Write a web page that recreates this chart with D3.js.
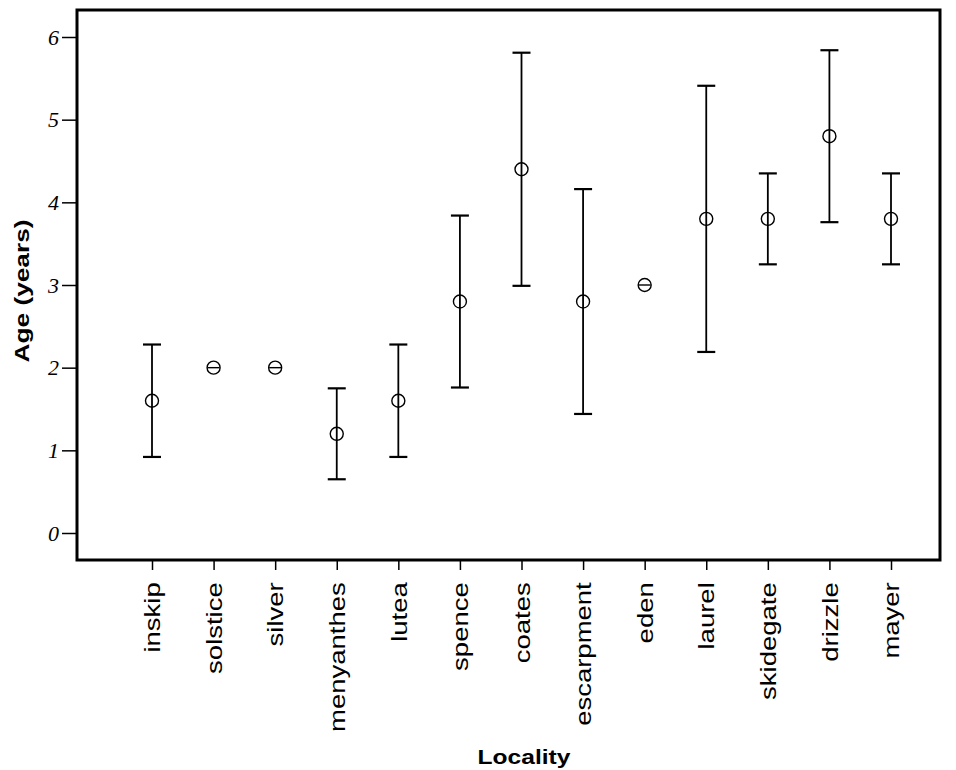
<!DOCTYPE html>
<html>
<head>
<meta charset="utf-8">
<script src="https://cdn.jsdelivr.net/npm/d3@7"></script>
<style>
  body { margin: 0; background: #fff; }
</style>
</head>
<body>
<svg id="chart"></svg>
<script>
const localities = ["inskip", "solstice", "silver", "menyanthes", "lutea", "spence", "coates",
  "escarpment", "eden", "laurel", "skidegate", "drizzle", "mayer"];
const meanAge = [1.6, 2.0, 2.0, 1.2, 1.6, 2.8, 4.4, 2.8, 3.0, 3.8, 3.8, 4.8, 3.8];
const lowerCI = [0.92, 2.0, 2.0, 0.65, 0.92, 1.76, 2.99, 1.44, 3.0, 2.19, 3.25, 3.76, 3.25];
const upperCI = [2.28, 2.0, 2.0, 1.75, 2.28, 3.84, 5.81, 4.16, 3.0, 5.41, 4.35, 5.84, 4.35];
const yTicks = [0, 1, 2, 3, 4, 5, 6];

const svgWidth = 956;
const svgHeight = 770;
const frame = { left: 77, right: 940, top: 10, bottom: 560 };
const sans = "'Liberation Sans', Arial, sans-serif";

const svg = d3.select("#chart")
  .attr("width", svgWidth)
  .attr("height", svgHeight);

const dataset = localities.map((name, i) => ({
  name: name, mean: meanAge[i], lo: lowerCI[i], hi: upperCI[i]
}));

const xScale = d3.scalePoint()
  .domain(localities)
  .range([152, 891]);

const yScale = d3.scaleLinear()
  .domain([0, 6])
  .range([533, 37]);

// frame
svg.append("rect")
  .attr("x", frame.left)
  .attr("y", frame.top)
  .attr("width", frame.right - frame.left)
  .attr("height", frame.bottom - frame.top)
  .attr("fill", "none")
  .attr("stroke", "#000")
  .attr("stroke-width", 3);

// y axis
const yAxis = d3.axisLeft(yScale)
  .tickValues(yTicks)
  .tickSize(14)
  .tickPadding(3)
  .tickFormat(d3.format("d"));

const gy = svg.append("g")
  .attr("transform", `translate(${frame.left - 1}, 0)`)
  .call(yAxis);
gy.select(".domain").remove();
gy.selectAll("line").attr("stroke", "#000").attr("stroke-width", 1.5);
gy.selectAll("text")
  .attr("font-family", "'Liberation Serif', serif")
  .attr("font-style", "italic")
  .attr("font-size", 22)
  .attr("fill", "#000");

// x axis, labels stretched along their length like the original export
const xAxis = d3.axisBottom(xScale)
  .tickSize(9)
  .tickPadding(0);

const gx = svg.append("g")
  .attr("transform", `translate(0, ${frame.bottom + 1})`)
  .call(xAxis);
gx.select(".domain").remove();
gx.selectAll("line").attr("stroke", "#000").attr("stroke-width", 1.5);
gx.selectAll("text")
  .attr("font-family", sans)
  .attr("font-size", 22)
  .attr("fill", "#000")
  .attr("transform", "rotate(-90) scale(1.25, 1)")
  .attr("text-anchor", "end")
  .attr("dy", "0.35em")
  .attr("x", -17)
  .attr("y", 0);

// error bars
const capHalf = 9;
const bars = svg.append("g")
  .selectAll("g")
  .data(dataset)
  .enter()
  .append("g")
  .attr("stroke", "#000")
  .attr("stroke-width", 1.8)
  .attr("fill", "none");

bars.append("line")
  .attr("x1", d => xScale(d.name))
  .attr("x2", d => xScale(d.name))
  .attr("y1", d => yScale(d.lo))
  .attr("y2", d => yScale(d.hi));

bars.append("line")
  .attr("y1", d => yScale(d.hi))
  .attr("y2", d => yScale(d.hi))
  .attr("stroke-width", d => d.hi === d.lo ? 1.4 : 2.2)
  .attr("x1", d => xScale(d.name) - (d.hi === d.lo ? 6 : capHalf))
  .attr("x2", d => xScale(d.name) + (d.hi === d.lo ? 6 : capHalf));

bars.append("line")
  .attr("x1", d => xScale(d.name) - capHalf)
  .attr("x2", d => xScale(d.name) + capHalf)
  .attr("y1", d => yScale(d.lo))
  .attr("y2", d => yScale(d.lo))
  .attr("stroke-width", 2.2)
  .style("display", d => d.hi === d.lo ? "none" : null);

bars.append("circle")
  .attr("cx", d => xScale(d.name))
  .attr("cy", d => yScale(d.mean))
  .attr("r", 6.5)
  .attr("stroke-width", 1.4);

// titles
svg.append("text")
  .attr("transform", `translate(29, ${(frame.top + frame.bottom) / 2 + 6}) rotate(-90) scale(1.25, 1)`)
  .attr("text-anchor", "middle")
  .attr("font-family", sans)
  .attr("font-weight", "bold")
  .attr("font-size", 21)
  .text("Age (years)");

svg.append("text")
  .attr("transform", "translate(524, 764) scale(1.17, 1)")
  .attr("text-anchor", "middle")
  .attr("font-family", sans)
  .attr("font-weight", "bold")
  .attr("font-size", 21)
  .text("Locality");
</script>
</body>
</html>
